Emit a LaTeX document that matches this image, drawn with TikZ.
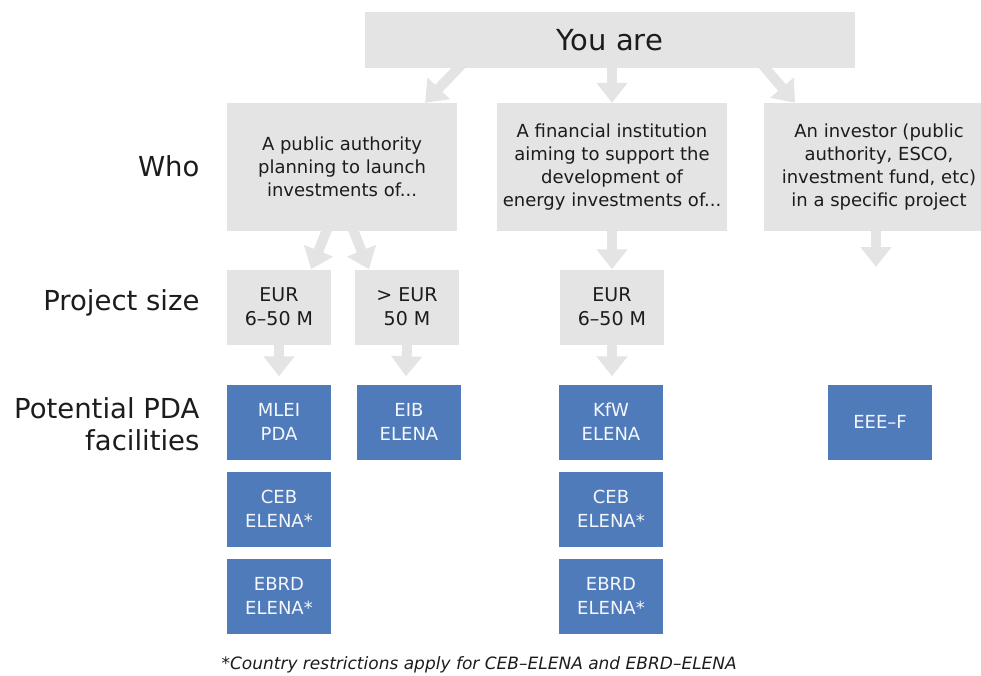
\documentclass[tikz,border=0pt]{standalone}
\usepackage{fontspec}
\setmainfont{DejaVu Sans}
\usepackage{tikz}
\usetikzlibrary{arrows.meta,positioning}
\definecolor{boxgray}{RGB}{228,228,228}
\definecolor{pdablue}{RGB}{80,123,186}
\definecolor{txtdark}{RGB}{28,28,28}

\begin{document}
\begin{tikzpicture}[x=1pt,y=-1pt,
		greybox/.style={fill=boxgray,text=txtdark,align=center,inner sep=0pt,minimum width=230pt,minimum height=128pt,font=\fontsize{18}{23}\selectfont},
		sizebox/.style={greybox,minimum width=104pt,minimum height=75pt,font=\fontsize{19}{24}\selectfont},
		pdabox/.style={fill=pdablue,text=white!94!pdablue,align=center,inner sep=0pt,minimum width=104pt,minimum height=75pt,font=\fontsize{18}{24}\selectfont},
		rowlabel/.style={anchor=east,align=right,text=txtdark,font=\fontsize{27.5}{32}\selectfont},
		bigarrow/.style={line width=10pt,draw=boxgray,-{Triangle[width=30pt,length=20pt]}}]
		\useasboundingbox (0,0) rectangle (981,676);

		\node[greybox,minimum width=490pt,minimum height=56pt,font=\fontsize{29}{34}\selectfont] (you) at (610,40) {You are};
		\node[greybox] (public) at (342,167) {A public authority\\planning to launch\\investments of...};
		\node[greybox] (financial) at (612,167) {A financial institution\\aiming to support the\\development of\\energy investments of...};
		\node[greybox] (investor) at (879,167) {An investor (public\\authority, ESCO,\\investment fund, etc)\\in a specific project};

		\node[rowlabel] (who) at (203,166) {Who};
		\node[rowlabel] (size) at (203,303) {Project size};
		\node[rowlabel] (pda) at (203,424) {Potential PDA\\facilities};

		\node[sizebox] (eur1) at (279,307) {EUR\\6–50 M};
		\node[sizebox] (eur2) at (407,307) {> EUR\\50 M};
		\node[sizebox] (eur3) at (612,307) {EUR\\6–50 M};

		\node[pdabox] (mlei) at (279,422) {MLEI\\PDA};
		\node[pdabox] (eib) at (409,422) {EIB\\ELENA};
		\node[pdabox] (kfw) at (611,422) {KfW\\ELENA};
		\node[pdabox] (eeef) at (880,422) {EEE–F};
		\node[pdabox] (ceb1) at (279,509) {CEB\\ELENA*};
		\node[pdabox] (ceb2) at (611,509) {CEB\\ELENA*};
		\node[pdabox] (ebrd1) at (279,596) {EBRD\\ELENA*};
		\node[pdabox] (ebrd2) at (611,596) {EBRD\\ELENA*};

		\node[anchor=west,text=txtdark,font=\fontsize{17}{20}\selectfont\itshape] (note) at (218,665) {*Country restrictions apply for CEB–ELENA and EBRD–ELENA};

		\draw[bigarrow] ([xshift=-148pt,yshift=4pt]you.south) -- ([xshift=83pt]public.north);
		\draw[bigarrow] (financial.north |- you.south) -- (financial.north);
		\draw[bigarrow] ([xshift=152pt,yshift=4pt]you.south) -- ([xshift=-84pt]investor.north);

		\draw[bigarrow] ([xshift=-14pt,yshift=4pt]public.south) -- ([xshift=32pt]eur1.north);
		\draw[bigarrow] ([xshift=10pt,yshift=4pt]public.south) -- ([xshift=-38pt]eur2.north);
		\draw[bigarrow] (financial.south) -- (eur3.north);
		\coordinate (investor end) at (876,267);
		\draw[bigarrow] (investor.south -| investor end) -- (investor end);

		\draw[bigarrow] (eur1.south) -- ([yshift=8pt]mlei.north);
		\draw[bigarrow] (eur2.south) -- ([xshift=-3pt,yshift=8pt]eib.north);
		\draw[bigarrow] (eur3.south) -- ([xshift=1pt,yshift=8pt]kfw.north);
	\end{tikzpicture}
\end{document}
